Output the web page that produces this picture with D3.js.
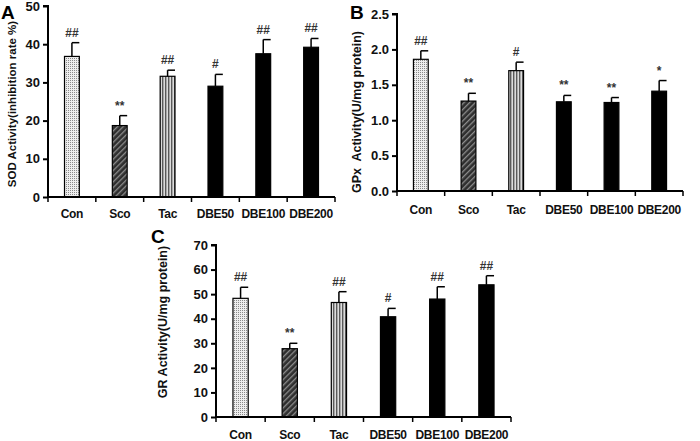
<!DOCTYPE html>
<html><head><meta charset="utf-8">
<script src="https://cdn.jsdelivr.net/npm/d3@7"></script>
<style>body{margin:0;background:#fff}svg{display:block}</style>
</head><body>
<svg id="c" width="700" height="441"></svg>
<script>
const categories = ["Con","Sco","Tac","DBE50","DBE100","DBE200"];
const sodValues = [36.8, 18.7, 31.6, 29.0, 37.5, 39.2];
const sodErrors = [3.6, 2.6, 1.6, 3.1, 3.7, 2.3];
const sodMarks = ["##","**","##","#","##","##"];
const sodTicks = [0,10,20,30,40,50];
const gpxValues = [1.86, 1.27, 1.70, 1.26, 1.25, 1.41];
const gpxErrors = [0.12, 0.11, 0.12, 0.09, 0.07, 0.15];
const gpxMarks = ["##","**","#","**","**","*"];
const gpxTicks = [0,0.5,1.0,1.5,2.0,2.5];
const grValues = [48.3, 27.8, 46.6, 40.8, 48.0, 53.8];
const grErrors = [4.5, 2.2, 4.4, 3.4, 5.0, 3.7];
const grMarks = ["##","**","##","#","##","##"];
const grTicks = [0,10,20,30,40,50,60,70];

const FONT = "Liberation Sans, Arial, sans-serif";
const svg = d3.select("#c");
const defs = svg.append("defs");
const pd = defs.append("pattern").attr("id","dots").attr("patternUnits","userSpaceOnUse").attr("width",2).attr("height",2);
pd.append("rect").attr("width",2).attr("height",2).attr("fill","#eeeeee");
pd.append("rect").attr("width",1).attr("height",1).attr("fill","#8a8a8a");
const ph = defs.append("pattern").attr("id","hatch").attr("patternUnits","userSpaceOnUse").attr("width",4).attr("height",4).attr("patternTransform","rotate(45)");
ph.append("rect").attr("width",4).attr("height",4).attr("fill","#2e2e2e");
ph.append("rect").attr("width",1.3).attr("height",4).attr("fill","#8c8c8c");
const pv = defs.append("pattern").attr("id","vstripe").attr("patternUnits","userSpaceOnUse").attr("width",3).attr("height",3);
pv.append("rect").attr("width",3).attr("height",3).attr("fill","#dcdcdc");
pv.append("rect").attr("width",1.4).attr("height",3).attr("fill","#5a5a5a");
const fills = ["url(#dots)","url(#hatch)","url(#vstripe)","#000","#000","#000"];

function panel(o){
  const g = svg.append("g");
  const x = d3.scaleBand().domain(categories).range([o.x0,o.x1]).padding(0);
  const y = d3.scaleLinear().domain([0,o.max]).range([o.y0,o.y1]);
  const bw = x.bandwidth()*0.31;
  g.selectAll("rect.bar").data(o.values).join("rect").attr("class","bar")
    .attr("x",(d,i)=>x(categories[i])+x.bandwidth()/2-bw/2)
    .attr("y",d=>y(d)).attr("width",bw).attr("height",d=>y(0)-y(d))
    .attr("fill",(d,i)=>fills[i]).attr("stroke","#000").attr("stroke-width",1.2);
  o.values.forEach((v,i)=>{
    const cx = x(categories[i])+x.bandwidth()/2;
    const top = y(v+o.errors[i]);
    g.append("line").attr("x1",cx).attr("x2",cx).attr("y1",y(v)).attr("y2",top).attr("stroke","#000").attr("stroke-width",1.5);
    g.append("line").attr("x1",cx).attr("x2",cx+bw/2).attr("y1",top).attr("y2",top).attr("stroke","#000").attr("stroke-width",1.5);
    g.append("text").attr("x",cx).attr("y",top-6).attr("text-anchor","middle")
      .attr("font-family",FONT).attr("font-size",12).attr("font-weight","bold").attr("fill","#333")
      .text(o.marks[i]);
  });
  const ya = g.append("g").attr("transform",`translate(${o.x0},0)`)
    .call(d3.axisLeft(y).tickValues(o.ticks).tickSize(5).tickPadding(3).tickFormat(o.fmt));
  ya.select(".domain").attr("stroke-width",2).attr("d",`M-5,${y(o.max)}H0V${y(0)}`);
  ya.selectAll(".tick line").attr("stroke-width",2);
  ya.selectAll("text").attr("font-family",FONT).attr("font-size",13).attr("font-weight","bold").attr("fill","#111");
  const xa = g.append("g").attr("transform",`translate(0,${o.y0})`);
  xa.append("line").attr("x1",o.x0).attr("x2",o.x1).attr("stroke","#000").attr("stroke-width",2);
  const bounds = categories.map(c=>x(c)).concat([o.x1]);
  xa.selectAll("line.t").data(bounds).join("line").attr("class","t")
    .attr("x1",d=>d).attr("x2",d=>d).attr("y1",0).attr("y2",5).attr("stroke","#000").attr("stroke-width",1.5);
  xa.selectAll("text.cat").data(categories).join("text").attr("class","cat")
    .attr("x",d=>x(d)+x.bandwidth()/2).attr("y",o.labY - o.y0).attr("text-anchor","middle")
    .attr("font-family",FONT).attr("font-size",12).attr("letter-spacing",-0.3).attr("font-weight","bold").attr("fill","#111")
    .text(d=>d);
  g.append("text").attr("transform",`translate(${o.lx},${o.ly}) rotate(-90)`).attr("text-anchor","middle")
    .attr("font-family",FONT).attr("font-size",o.lsize).attr("font-weight","bold").attr("fill","#111")
    .style("white-space","pre").text(o.ylabel);
  g.append("text").attr("x",o.px).attr("y",o.py)
    .attr("font-family",FONT).attr("font-size",19).attr("font-weight","bold").attr("fill","#000")
    .text(o.letter);
}

panel({values:sodValues,errors:sodErrors,marks:sodMarks,ticks:sodTicks,max:50,fmt:d3.format("d"),
  x0:48,x1:335,y0:197,y1:6,labY:218,lx:16,ly:104,lsize:11.5,ylabel:"SOD Activity(inhibition rate %)",letter:"A",px:1,py:19});
panel({values:gpxValues,errors:gpxErrors,marks:gpxMarks,ticks:gpxTicks,max:2.5,fmt:d3.format(".1f"),
  x0:397,x1:683,y0:191,y1:14,labY:214,lx:361,ly:112,lsize:12.5,ylabel:"GPx  Activity(U/mg protein)",letter:"B",px:350,py:19});
panel({values:grValues,errors:grErrors,marks:grMarks,ticks:grTicks,max:70,fmt:d3.format("d"),
  x0:216,x1:511,y0:417,y1:245,labY:439,lx:167,ly:322,lsize:12.5,ylabel:"GR Activity(U/mg protein)",letter:"C",px:151,py:243});
</script>
</body></html>
